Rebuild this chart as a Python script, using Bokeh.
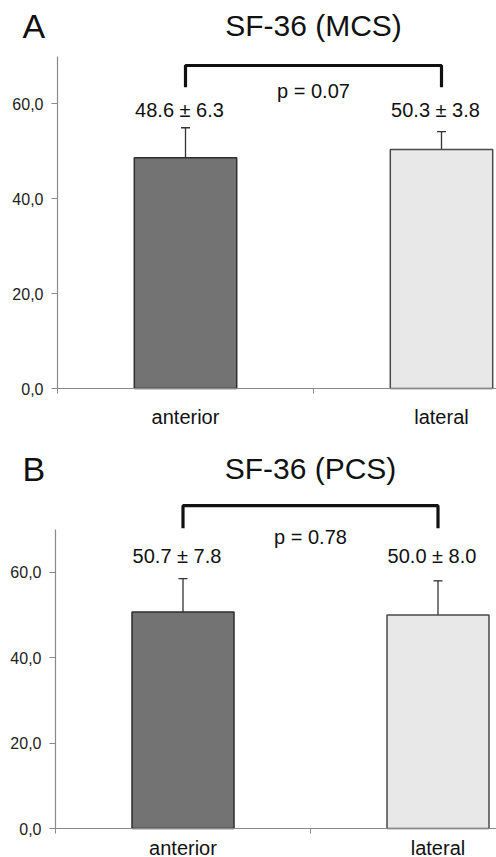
from bokeh.plotting import figure
from bokeh.layouts import column
from bokeh.models import Range1d, FixedTicker, Whisker, TeeHead, ColumnDataSource
from bokeh.core.properties import value
from bokeh.embed import file_html
from bokeh.resources import INLINE

# ---- data ----
categories = ["anterior", "lateral"]
mcs_mean = [48.6, 50.3]
mcs_sd = [6.3, 3.8]
mcs_p = "p = 0.07"
pcs_mean = [50.7, 50.0]
pcs_sd = [7.8, 8.0]
pcs_p = "p = 0.78"
y_ticks = [0, 20, 40, 60]
y_tick_labels = ["0,0", "20,0", "40,0", "60,0"]
bar_colors = ["#737373", "#e8e8e8"]
bar_lines = ["#2e2e2e", "#4a4a4a"]

FONT = "Liberation Sans"


def make_panel(letter, title, means, sds, ptext, height, axis_px, axis_py, px_per_unit,
               py_per_unit, axis_top, y_letter, y_bracket_top, y_bracket_bot, y_p,
               y_lab, x_standoff):
    xmin = -axis_px / px_per_unit
    xmax = (496 - axis_px) / px_per_unit
    ymin = -(height - axis_py) / py_per_unit
    ymax = axis_py / py_per_unit
    p = figure(width=496, height=height, output_backend="svg", toolbar_location=None,
               x_range=Range1d(xmin, xmax), y_range=Range1d(ymin, ymax),
               min_border_left=0, min_border_top=0, min_border_right=0,
               min_border_bottom=0)
    p.outline_line_color = None
    p.xgrid.grid_line_color = None
    p.ygrid.grid_line_color = None
    p.background_fill_color = "white"

    xs = [i + 0.5 for i in range(len(categories))]
    tops = [m + s for m, s in zip(means, sds)]
    labels = [f"{m:.1f} \u00b1 {s:.1f}" for m, s in zip(means, sds)]
    src = ColumnDataSource(dict(x=xs, mean=means, top=tops, fill=bar_colors,
                                line=bar_lines, lab=labels))

    p.vbar(x="x", top="mean", width=0.4, bottom=0, source=src,
           fill_color="fill", line_color="line", line_width=1.5)
    p.add_layout(Whisker(base="x", lower="mean", upper="top", source=src,
                         line_color="#333333", line_width=1.3,
                         upper_head=TeeHead(size=9, line_color="#333333", line_width=1.3),
                         lower_head=None))

    # value labels
    p.text(x="x", y=y_lab, text="lab", source=src, text_align="center",
           text_baseline="middle", text_font=value(FONT), text_font_size="20px",
           text_color="#111111", x_offset=-6)

    # bracket between the two category centres
    p.line(x=[xs[0], xs[0], xs[1], xs[1]],
           y=[y_bracket_bot, y_bracket_top, y_bracket_top, y_bracket_bot],
           line_color="#111111", line_width=3.2)
    p.text(x=[(xs[0] + xs[1]) / 2], y=[y_p], text=[ptext], text_align="center",
           text_baseline="middle", text_font=value(FONT), text_font_size="20px",
           text_color="#111111")

    # panel letter and title
    p.text(x=[xmin], y=[y_letter], text=[letter], x_offset=22,
           text_align="left", text_baseline="middle",
           text_font=value(FONT), text_font_size="34px", text_color="#111111")
    p.text(x=[(xs[0] + xs[1]) / 2], y=[y_letter], text=[title],
           text_align="center", text_baseline="middle",
           text_font=value(FONT), text_font_size="30px", text_color="#111111")

    # y axis, placed at x = 0 inside the plot area
    ya = p.yaxis[0]
    ya.fixed_location = 0
    ya.ticker = FixedTicker(ticks=y_ticks)
    ya.major_label_overrides = dict(zip(y_ticks, y_tick_labels))
    ya.bounds = (0, axis_top)
    ya.axis_line_color = "#8a8a8a"
    ya.axis_line_width = 1.2
    ya.major_tick_line_color = "#8a8a8a"
    ya.major_tick_out = 6
    ya.major_tick_in = 0
    ya.minor_tick_line_color = None
    ya.major_label_standoff = 8
    ya.major_label_text_font = FONT
    ya.major_label_text_font_size = "16px"
    ya.major_label_text_color = "#222222"

    # x axis, placed at y = 0 inside the plot area
    xa = p.xaxis[0]
    xa.fixed_location = 0
    xa.ticker = FixedTicker(ticks=xs, minor_ticks=[0, 1, 2])
    xa.major_label_overrides = dict(zip(xs, categories))
    xa.bounds = (0, xmax)
    xa.axis_line_color = "#8a8a8a"
    xa.axis_line_width = 1.2
    xa.major_tick_line_color = None
    xa.major_tick_out = 0
    xa.major_tick_in = 0
    xa.minor_tick_line_color = "#8a8a8a"
    xa.minor_tick_out = 5
    xa.minor_tick_in = 0
    xa.major_label_standoff = x_standoff
    xa.major_label_text_font = FONT
    xa.major_label_text_font_size = "20px"
    xa.major_label_text_color = "#111111"
    return p


pA = make_panel("A", "SF-36 (MCS)", mcs_mean, mcs_sd, mcs_p, height=430,
                axis_px=57, axis_py=388, px_per_unit=256, py_per_unit=4.75,
                axis_top=70, y_letter=76.4, y_bracket_top=68.0, y_bracket_bot=63.4,
                y_p=62.7, y_lab=58.6, x_standoff=12)

pB = make_panel("B", "SF-36 (PCS)", pcs_mean, pcs_sd, pcs_p, height=427,
                axis_px=55, axis_py=398, px_per_unit=255, py_per_unit=4.27,
                axis_top=70, y_letter=84.3, y_bracket_top=75.6, y_bracket_bot=70.3,
                y_p=68.3, y_lab=63.9, x_standoff=3)

layout = column(pA, pB, spacing=0)
open("out.html", "w").write(file_html(layout, INLINE))
